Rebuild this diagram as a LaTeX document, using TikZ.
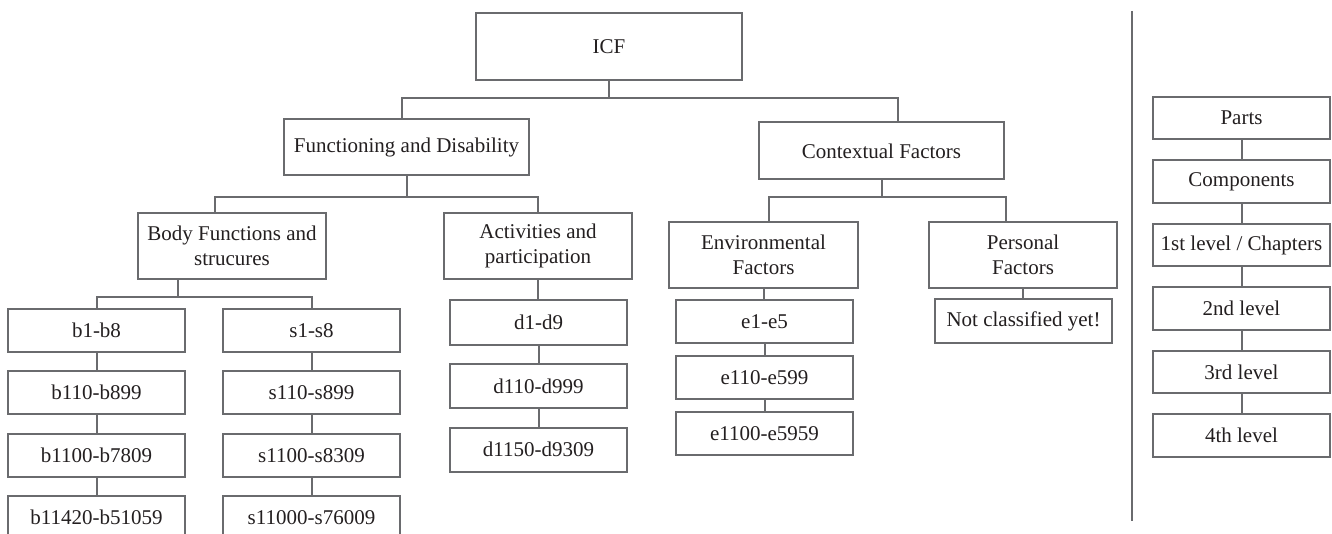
\documentclass[tikz,border=0pt]{standalone}
\usepackage{fontspec}
\setmainfont{Liberation Serif}
\definecolor{linegray}{HTML}{6A6B6E}
\definecolor{textcol}{HTML}{231F20}
\begin{document}
\begin{tikzpicture}[x=1pt,y=-1pt,
  box/.style 2 args={draw=linegray,line width=2pt,fill=white,text=textcol,
    font=\fontsize{21}{25}\selectfont,align=center,inner sep=0pt,
    minimum width=#1,minimum height=#2},
  conn/.style={draw=linegray,line width=2pt}]
\useasboundingbox (0,0) rectangle (1332,534);
% level 0-2
\node[box={266}{67}] (icf) at (609,46.5) {ICF};
\node[box={245}{56}] (fd) at (406.5,147) {Functioning and Disability};
\node[box={245}{57}] (cf) at (881.5,151) {Contextual Factors};
% level 3
\node[box={188}{66}] (body) at (232,246) {Body Functions and\\strucures};
\node[box={188}{66}] (act) at (538,246) {Activities and\\participation};
\node[box={189}{66}] (env) at (763.5,255) {Environmental\\Factors};
\node[box={188}{66}] (pers) at (1023,255) {Personal\\Factors};
% b column
\node[box={177}{43}] (b1) at (96.5,330.5) {b1-b8};
\node[box={177}{43}] (b2) at (96.5,392.5) {b110-b899};
\node[box={177}{43}] (b3) at (96.5,455.5) {b1100-b7809};
\node[box={177}{43}] (b4) at (96.5,517.5) {b11420-b51059};
% s column
\node[box={177}{43}] (s1) at (311.5,330.5) {s1-s8};
\node[box={177}{43}] (s2) at (311.5,392.5) {s110-s899};
\node[box={177}{43}] (s3) at (311.5,455.5) {s1100-s8309};
\node[box={177}{43}] (s4) at (311.5,517.5) {s11000-s76009};
% d column
\node[box={177}{44}] (d1) at (538.5,322.5) {d1-d9};
\node[box={177}{44}] (d2) at (538.5,386) {d110-d999};
\node[box={177}{44}] (d3) at (538.5,449.5) {d1150-d9309};
% e column
\node[box={177}{43}] (e1) at (764.5,321.5) {e1-e5};
\node[box={177}{43}] (e2) at (764.5,377.5) {e110-e599};
\node[box={177}{43}] (e3) at (764.5,433.5) {e1100-e5959};
% personal
\node[box={177}{44}] (nc) at (1023.5,321) {Not classified yet!};
% right legend column
\node[box={177}{42.5}] (r1) at (1241.5,118) {Parts};
\node[box={177}{42.5}] (r2) at (1241.5,181.5) {Components};
\node[box={177}{42.5}] (r3) at (1241.5,245) {1st level / Chapters};
\node[box={177}{42.5}] (r4) at (1241.5,308.5) {2nd level};
\node[box={177}{42.5}] (r5) at (1241.5,372) {3rd level};
\node[box={177}{42.5}] (r6) at (1241.5,435.5) {4th level};
% bus coordinates
\coordinate (k1L) at (402,98.3);
\coordinate (k1R) at (898,98.3);
\coordinate (k2L) at (215,197.3);
\coordinate (k2R) at (538,197.3);
\coordinate (k3L) at (769,197.5);
\coordinate (k3R) at (1006,197.5);
\coordinate (k4L) at (97,297.3);
\coordinate (k4M) at (178,297.3);
\coordinate (k4R) at (312,297.3);
\coordinate (divtop) at (1131.7,11);
\coordinate (divbot) at (1131.7,521);
% connectors
\draw[conn] (icf.south) -- (icf.south |- k1L);
\draw[conn] (fd.north -| k1L) -- (k1L) -- (k1R) -- (cf.north -| k1R);
\draw[conn] (fd.south) -- (fd.south |- k2L);
\draw[conn] (body.north -| k2L) -- (k2L) -- (k2R) -- (act.north -| k2R);
\draw[conn] (cf.south) -- (cf.south |- k3L);
\draw[conn] (env.north -| k3L) -- (k3L) -- (k3R) -- (pers.north -| k3R);
\draw[conn] (body.south -| k4M) -- (k4M);
\draw[conn] (b1.north -| k4L) -- (k4L) -- (k4R) -- (s1.north -| k4R);
\draw[conn] (b1.south) -- (b2.north);
\draw[conn] (b2.south) -- (b3.north);
\draw[conn] (b3.south) -- (b4.north);
\draw[conn] (s1.south) -- (s2.north);
\draw[conn] (s2.south) -- (s3.north);
\draw[conn] (s3.south) -- (s4.north);
\draw[conn] (act.south) -- (act.south |- d1.north);
\draw[conn] (d1.south) -- (d2.north);
\draw[conn] (d2.south) -- (d3.north);
\draw[conn] (env.south) -- (env.south |- e1.north);
\draw[conn] (e1.south) -- (e2.north);
\draw[conn] (e2.south) -- (e3.north);
\draw[conn] (pers.south) -- (pers.south |- nc.north);
\draw[conn] (r1.south) -- (r2.north);
\draw[conn] (r2.south) -- (r3.north);
\draw[conn] (r3.south) -- (r4.north);
\draw[conn] (r4.south) -- (r5.north);
\draw[conn] (r5.south) -- (r6.north);
\draw[conn] (divtop) -- (divbot);
\end{tikzpicture}
\end{document}
